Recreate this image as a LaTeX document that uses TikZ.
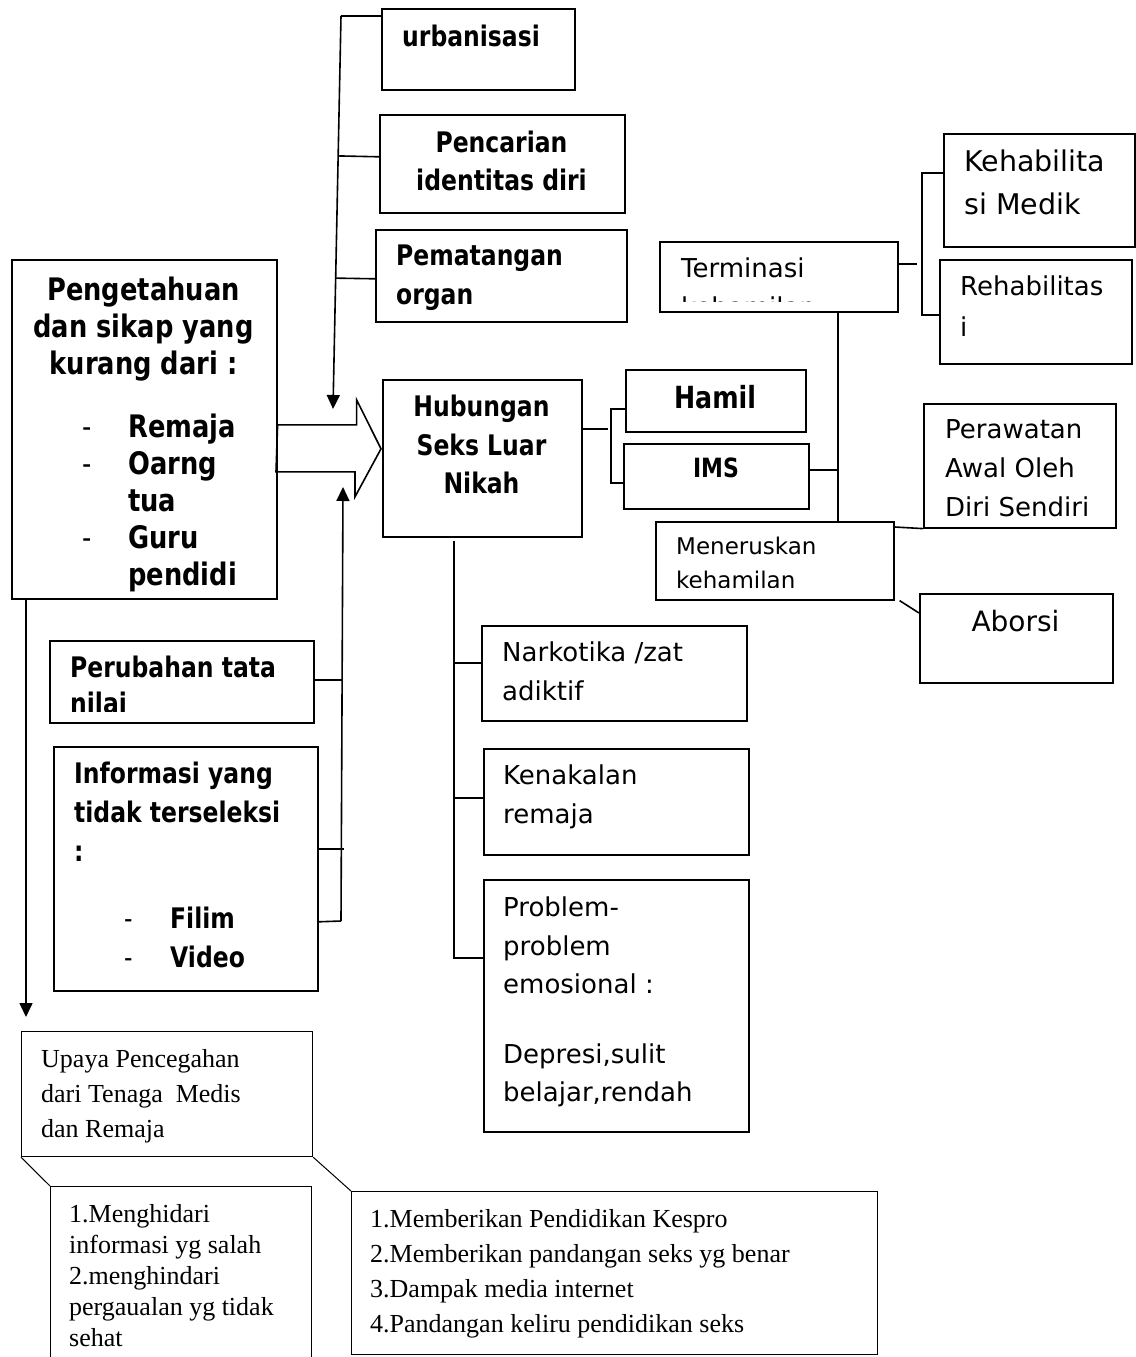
\documentclass[tikz,border=0pt]{standalone}
\usepackage{fontspec}
\setmainfont{DejaVu Sans}
\newfontfamily\tahbold[FakeStretch=0.83]{DejaVu Sans}
\newfontfamily\timesfont{Liberation Serif}
\usetikzlibrary{arrows.meta,calc,positioning}
\tikzset
{
    box/.style      = {draw=black, line width=1.6pt, anchor=north west, inner sep=0pt},
    txt/.style      = {anchor=north west, inner sep=0pt, align=left},
    ctxt/.style     = {anchor=north, inner sep=0pt, align=center},
    link/.style     = {draw=black, line width=1.6pt},
    slim/.style     = {draw=black, line width=1pt},
    boldtxt/.style  = {font=\tahbold\bfseries\fontsize{28.3}{38.5}\selectfont},
    plaintxt/.style = {font=\fontsize{26}{38.5}\selectfont},
    serif/.style    = {font=\timesfont\fontsize{26}{35}\selectfont}
}

\begin{document}
\begin{tikzpicture}[x=1pt, y=-1pt, >={Triangle[length=14pt,width=13pt]}]
    \useasboundingbox (0,0) rectangle (1135,1357);

    % boxes
    \node [box, minimum width=193pt, minimum height=81pt]  (urb)   at (381,8)    {};
    \node [box, minimum width=245pt, minimum height=98pt]  (pen)   at (379,114)  {};
    \node [box, minimum width=251pt, minimum height=92pt]  (pem)   at (375,229)  {};
    \node [box, minimum width=265pt, minimum height=339pt] (peng)  at (11,259)   {};
    \node [box, minimum width=199pt, minimum height=157pt] (hub)   at (382,379)  {};
    \node [box, minimum width=180pt, minimum height=62pt]  (ham)   at (625,369)  {};
    \node [box, minimum width=185pt, minimum height=65pt]  (ims)   at (623,443)  {};
    \node [box, minimum width=238pt, minimum height=70pt]  (ter)   at (659,241)  {};
    \node [box, minimum width=191pt, minimum height=113pt] (keh)   at (943,133)  {};
    \node [box, minimum width=192pt, minimum height=104pt] (reh)   at (939,259)  {};
    \node [box, minimum width=192pt, minimum height=124pt] (per)   at (923,403)  {};
    \node [box, minimum width=238pt, minimum height=78pt]  (men)   at (655,521)  {};
    \node [box, minimum width=193pt, minimum height=89pt]  (abo)   at (919,593)  {};
    \node [box, minimum width=265pt, minimum height=95pt]  (nar)   at (481,625)  {};
    \node [box, minimum width=265pt, minimum height=106pt] (ken)   at (483,748)  {};
    \node [box, minimum width=265pt, minimum height=252pt] (pro)   at (483,879)  {};
    \node [box, minimum width=264pt, minimum height=82pt]  (perub) at (49,640)   {};
    \node [box, minimum width=264pt, minimum height=244pt] (info)  at (53,746)   {};
    \node [box, line width=1.2pt, minimum width=291pt, minimum height=125pt] (upa) at (21,1031) {};
    \node [box, draw=none, minimum width=260pt, minimum height=172pt] (ml) at (50,1186) {};
    \draw [slim] (ml.south west) -- (ml.north west) -- (ml.north east) -- (ml.south east);
    \node [box, line width=1.2pt, minimum width=526pt, minimum height=163pt] (mr) at (351,1191) {};

    % texts
    \node [txt, boldtxt] (urb-t) at (402,24.7) {urbanisasi};
    \node [ctxt, boldtxt] (pen-t) at (501.5,130.7) {Pencarian\\identitas diri};
    \node [txt, boldtxt, font=\tahbold\bfseries\fontsize{28.3}{39}\selectfont] (pem-t) at (396,244.7) {Pematangan\\organ};
    \node [ctxt, font=\tahbold\bfseries\fontsize{31}{37}\selectfont] (peng-t) at (143.5,277) {Pengetahuan\\dan sikap yang\\kurang dari :};
    \node [txt, font=\tahbold\bfseries\fontsize{31}{37}\selectfont] (peng-l) at (82,414)
        {\makebox[46pt][l]{\mdseries -}Remaja\\\makebox[46pt][l]{\mdseries -}Oarng\\\makebox[46pt]{}tua\\\makebox[46pt][l]{\mdseries -}Guru\\\makebox[46pt]{}pendidi};
    \node [ctxt, boldtxt] (hub-t) at (481.5,394.8) {Hubungan\\Seks Luar\\Nikah};
    \node [ctxt, font=\tahbold\bfseries\fontsize{30.5}{34}\selectfont] (ham-t) at (715,385) {Hamil};
    \node [ctxt, font=\tahbold\bfseries\fontsize{26.5}{30}\selectfont] (ims-t) at (716,458) {IMS};
    \begin{scope}
        \clip (ter.north west) rectangle ([yshift=11pt]ter.south east);
        \node [txt, font=\fontsize{26}{39}\selectfont] (ter-t) at (681,257.6) {Terminasi\\kehamilan};
    \end{scope}
    \node [txt, font=\fontsize{28.5}{43}\selectfont] (keh-t) at (964,149.6) {Kehabilita\\si Medik};
    \node [txt, font=\fontsize{26}{41}\selectfont] (reh-t) at (960,275.6) {Rehabilitas\\i};
    \begin{scope}
        \clip (per.north west) rectangle ([yshift=12pt]per.south east);
        \node [txt, font=\fontsize{26}{39}\selectfont] (per-t) at (945,419.6) {Perawatan\\Awal Oleh\\Diri Sendiri};
    \end{scope}
    \begin{scope}
        \clip (men.north west) rectangle ([yshift=13pt]men.south east);
        \node [txt, font=\fontsize{23}{34}\selectfont] (men-t) at (676,536.8) {Meneruskan\\kehamilan};
    \end{scope}
    \node [ctxt, font=\fontsize{28}{34}\selectfont] (abo-t) at (1015.5,609.8) {Aborsi};
    \node [txt, plaintxt] (nar-t) at (502,641.6) {Narkotika /zat\\adiktif};
    \node [txt, plaintxt] (ken-t) at (503,764.6) {Kenakalan\\remaja};
    \node [txt, plaintxt] (pro-t) at (503,896.6) {Problem-\\problem\\emosional :\\[31pt]Depresi,sulit\\belajar,rendah};
    \begin{scope}
        \clip (perub.north west) rectangle ([yshift=12pt]perub.south east);
        \node [txt, font=\tahbold\bfseries\fontsize{28.3}{36}\selectfont] (perub-t) at (70,655.7) {Perubahan tata\\nilai};
    \end{scope}
    \node [txt, font=\tahbold\bfseries\fontsize{28.3}{39}\selectfont] (info-t) at (74,761.7)
        {Informasi yang\\tidak terseleksi\\:\\[28pt]\hspace*{50pt}\makebox[46pt][l]{\mdseries -}Filim\\\hspace*{50pt}\makebox[46pt][l]{\mdseries -}Video};
    \node [txt, serif] (upa-t) at (41,1048.9) {Upaya Pencegahan\\dari Tenaga~ Medis\\dan Remaja};
    \node [txt, font=\timesfont\fontsize{26}{31}\selectfont] (ml-t) at (69,1203.9)
        {1.Menghidari\\informasi yg salah\\2.menghindari\\pergaualan yg tidak\\sehat};
    \node [txt, serif] (mr-t) at (370,1208.9)
        {1.Memberikan Pendidikan Kespro\\2.Memberikan pandangan seks yg benar\\3.Dampak media internet\\4.Pandangan keliru pendidikan seks};

    % upper left branch with arrow
    \coordinate (uTop) at (341,16);
    \coordinate (uTip) at (333,409);
    \draw [link] ([yshift=-8pt]urb.north west) -- (uTop);
    \draw [link, ->] (uTop) -- (uTip);
    \draw [link] ([yshift=7pt]pen.west) -- ($(uTop)!0.356!(uTip)$);
    \draw [link] ([yshift=-3pt]pem.west) -- ($(uTop)!0.667!(uTip)$);

    % hollow arrow
    \draw [link, line join=miter] ([yshift=4.5pt]peng.east) -- ++(79,0) -- ++(0,-25)
        -- ([xshift=-1pt,yshift=9.5pt]hub.west) -- ++(-26,48) -- ++(0,-25) -- ++(-79,0) -- cycle;

    % lower left branch with arrow
    \coordinate (lBot) at (341,921);
    \coordinate (lTip) at (343,487);
    \draw [link, ->] (lBot) -- (lTip);
    \draw [link] ([yshift=2pt]perub.east) -- ++(28,0);
    \draw [link] ([yshift=20pt]info.east) -- ++(25,0);
    \draw [link] ([yshift=-53pt]info.east) -- (lBot);

    % down to Upaya
    \draw [link, ->] ([xshift=15pt]peng.south west) -- ([xshift=5pt,yshift=14pt]upa.north west);
    \draw [slim] (upa.south west) -- (ml.north west);
    \draw [slim] (upa.south east) -- (mr.north west);

    % Hubungan to Hamil and IMS
    \draw [link] ([yshift=29.5pt]hub.east) -- ++(25,0);
    \draw [link] ([yshift=-8pt]ham.west) -- ++(-14,0) |- ([yshift=-6.5pt]ims.west);

    % IMS to Terminasi and Meneruskan
    \draw [link] ([yshift=6.5pt]ims.east) -- ++(29,0);
    \draw [link] ([xshift=59pt]ter.south) -- ([xshift=59pt]ter.south |- men.north);
    \draw [link] ([yshift=13pt]ter.east) -- ++(18,0);
    \draw [link] ([yshift=17.5pt]keh.west) -- ++(-21,0) |- ([yshift=-3pt]reh.west);
    \draw [link] ([yshift=-6pt]men.north east) -- (per.south west);
    \draw [link] ([xshift=5pt]men.south east) -- ([yshift=-20pt]abo.north west);

    % Hubungan down to the three problems
    \draw [link] ([xshift=-28.5pt,yshift=-3pt]hub.south) |- ([yshift=48pt]pro.west);
    \draw [link] ([yshift=10.5pt]nar.west) -- ++(-27,0);
    \draw [link] ([yshift=4pt]ken.west) -- ++(-30,0);
\end{tikzpicture}
\end{document}
